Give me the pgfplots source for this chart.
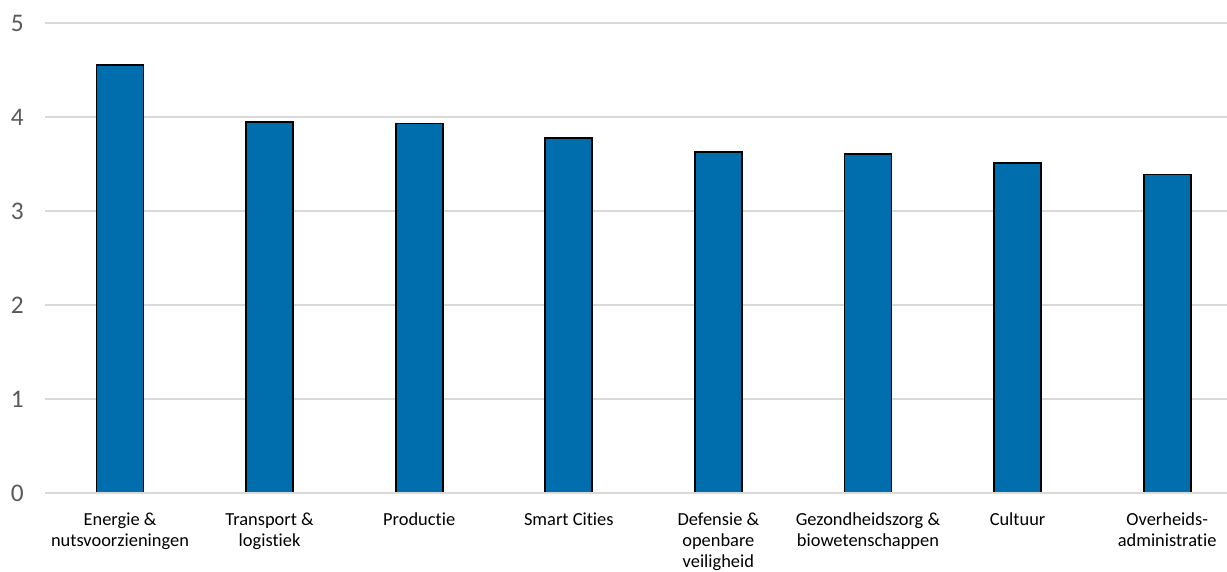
\documentclass[border=0pt]{standalone}
\usepackage{fontspec}
\setmainfont{Carlito}[Ligatures=NoCommon]
\usepackage{pgfplots}
\pgfplotsset{compat=1.18}
\definecolor{barblue}{HTML}{006EAD}
\definecolor{gridgray}{HTML}{D9D9D9}
\definecolor{labelgray}{HTML}{595959}

\begin{document}
\begin{tikzpicture}[x=1pt,y=1pt]
\useasboundingbox (-33.9,-58.5) rectangle (886.35,369.75);
\begin{axis}[
  at={(0,0)}, anchor=south west,
  scale only axis,
  width=886.35pt, height=352.5pt,
  xmin=-0.5, xmax=7.4,
  ymin=0, ymax=5,
  ytick={0,1,2,3,4,5},
  xtick=data,
  xticklabels={{Energie \&\\nutsvoorzieningen},{Transport \&\\logistiek},{Productie},{Smart Cities},{Defensie \&\\openbare\\veiligheid},{Gezondheidszorg \&\\biowetenschappen},{Cultuur},{Overheids-\\administratie}},
  axis line style={draw=none},
  major tick length=0pt,
  ymajorgrids,
  grid style={gridgray, line width=1.4pt},
  /pgf/number format/assume math mode=true,
  yticklabel style={font=\fontsize{19}{22}\selectfont, text=labelgray, inner sep=0pt, xshift=-16pt},
  xticklabel style={font=\fontsize{13.8}{15.7}\selectfont, text=black, align=center, anchor=north, inner sep=0pt, yshift=-14.5pt},
  clip=true,
]
\addplot[ybar, bar width=35.25pt, fill=barblue, draw=black, line width=1.3pt]
  coordinates {(0,4.555) (1,3.944) (2,3.932) (3,3.777) (4,3.625) (5,3.607) (6,3.508) (7,3.387)};
\draw[gridgray, line width=1.4pt] (axis cs:-0.5,0) -- (axis cs:7.4,0);
\end{axis}
\end{tikzpicture}
\end{document}
